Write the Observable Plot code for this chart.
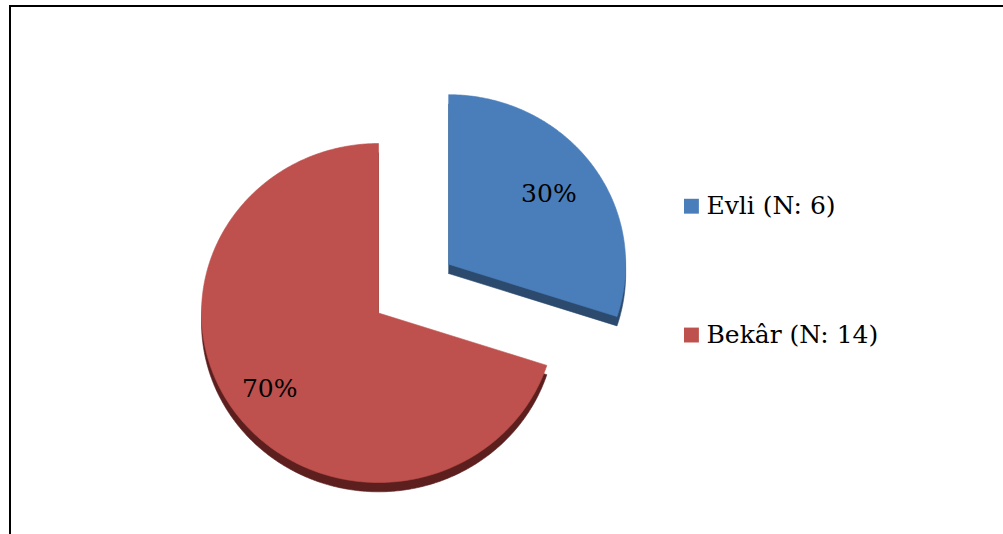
<!DOCTYPE html>
<html>
<head>
<meta charset="utf-8">
<script src="https://cdn.jsdelivr.net/npm/d3@7"></script>
<script src="https://cdn.jsdelivr.net/npm/@observablehq/plot@0.6"></script>
<style>
  html, body { margin: 0; padding: 0; background: #fff; overflow: hidden; }
  #frame { position: absolute; left: 9px; top: 5px; width: 1010px; height: 540px;
           border-top: 2px solid #000; border-left: 2px solid #000; pointer-events: none; }
  svg { display: block; }
</style>
</head>
<body>
<div id="frame"></div>
<script>
// ---- data ----
const categories = ["Evli (N: 6)", "Bekâr (N: 14)"];
const counts = [6, 14];
const percentLabels = ["30%", "70%"];
const colors = ["#4a7ebb", "#be504d"];
const sideColors = ["#2c4a6e", "#5c1f1e"];
const explodeAmount = [0.49, 0];

// ---- geometry (unit pie, y up) ----
const depth = 0.055;
const pie = d3.pie().sort(null).startAngle(0).endAngle(2 * Math.PI)(counts);
const slices = pie.map((p, i) => {
  const mid = (p.startAngle + p.endAngle) / 2;
  const cx = explodeAmount[i] * Math.sin(mid);
  const cy = explodeAmount[i] * Math.cos(mid);
  const n = Math.max(8, Math.ceil((p.endAngle - p.startAngle) / 0.01));
  const pts = [{x: cx, y: cy}];
  for (let k = 0; k <= n; k++) {
    const a = p.startAngle + (p.endAngle - p.startAngle) * k / n;
    pts.push({x: cx + Math.sin(a), y: cy + Math.cos(a)});
  }
  pts.push({x: cx, y: cy});
  return {i, cx, cy, mid, pts};
});

const topPts = slices.flatMap(s => s.pts.map(p => ({...p, id: s.i, fill: colors[s.i]})));
const sidePts = slices.flatMap(s => s.pts.map(p => ({x: p.x, y: p.y - depth, id: s.i, fill: sideColors[s.i]})));
const labelR = [0.70, 0.76];
const labelPts = slices.map(s => ({
  x: s.cx + labelR[s.i] * Math.sin(s.mid),
  y: s.cy + labelR[s.i] * Math.cos(s.mid),
  text: percentLabels[s.i]
}));
const legendY = [0.63, -0.13];
const legendPts = categories.map((c, i) => ({x: 1.768, tx: 1.853, y: legendY[i], text: c, fill: colors[i]}));

const serif = "DejaVu Serif";
const fontSize = 25;
const chart = Plot.plot({
  width: 1003,
  height: 534,
  margin: 0,
  x: {domain: [-1, 1], range: [201, 555], axis: null},
  y: {domain: [-1, 1], range: [482, 143], axis: null},
  marks: [
    Plot.line(sidePts, {x: "x", y: "y", z: "id", fill: "fill", stroke: "fill", strokeWidth: 0.6, curve: "linear"}),
    Plot.line(topPts, {x: "x", y: "y", z: "id", fill: "fill", stroke: "fill", strokeWidth: 0.6, curve: "linear"}),
    Plot.text(labelPts, {x: "x", y: "y", text: "text", fontSize, fontFamily: serif, fill: "black"}),
    Plot.dot(legendPts, {x: "x", y: "y", symbol: "square", r: 8.4, fill: "fill"}),
    Plot.text(legendPts, {x: "tx", y: "y", text: "text", textAnchor: "start", fontSize, fontFamily: serif, fill: "black"})
  ]
});
document.body.appendChild(chart);
</script>
</body>
</html>
